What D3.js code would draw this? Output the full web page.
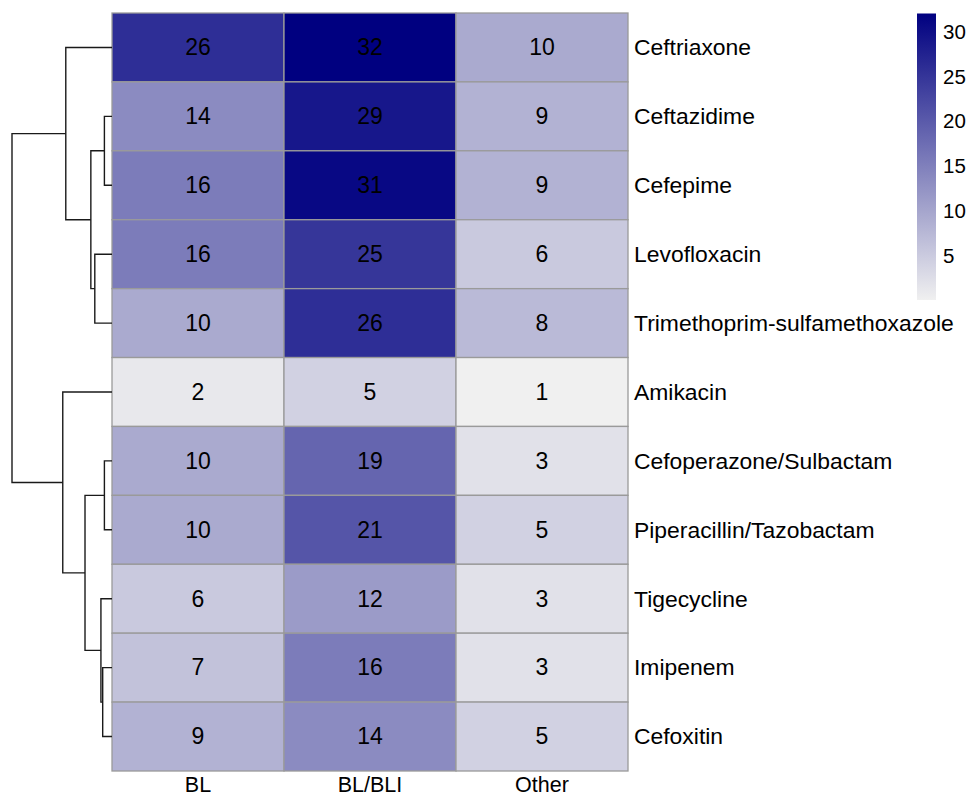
<!DOCTYPE html>
<html>
<head>
<meta charset="utf-8">
<script src="https://cdn.jsdelivr.net/npm/d3@7"></script>
<style>
  body { margin: 0; background: #fff; }
  svg { font-family: "Liberation Sans", Arial, Helvetica, sans-serif; }
</style>
</head>
<body>
<svg id="chart" width="974" height="798"></svg>
<script>
// --- data (rows in displayed order) ---
const drugs = ["Ceftriaxone", "Ceftazidime", "Cefepime", "Levofloxacin", "Trimethoprim-sulfamethoxazole",
  "Amikacin", "Cefoperazone/Sulbactam", "Piperacillin/Tazobactam", "Tigecycline", "Imipenem", "Cefoxitin"];
const groups = ["BL", "BL/BLI", "Other"];
const blValues    = [26, 14, 16, 16, 10, 2, 10, 10, 6, 7, 9];
const blbliValues = [32, 29, 31, 25, 26, 5, 19, 21, 12, 16, 14];
const otherValues = [10, 9, 9, 6, 8, 1, 3, 5, 3, 3, 5];
const legendTicks = [5, 10, 15, 20, 25, 30];

const matrix = drugs.map((d, i) => [blValues[i], blbliValues[i], otherValues[i]]);
const allVals = matrix.flat();

const svg = d3.select("#chart");

// --- scales ---
const x = d3.scaleBand().domain(groups).range([112, 628]);
const y = d3.scaleBand().domain(drugs).range([13, 771]);
const color = d3.scaleLinear().domain(d3.extent(allVals)).range(["#F0F0F0", "#000080"]).interpolate(d3.interpolateRgb);

// --- cells ---
const cells = [];
drugs.forEach((d, i) => groups.forEach((g, j) => cells.push({ drug: d, group: g, v: matrix[i][j] })));

svg.append("g").selectAll("rect").data(cells).join("rect")
  .attr("x", d => x(d.group)).attr("y", d => y(d.drug))
  .attr("width", x.bandwidth()).attr("height", y.bandwidth())
  .attr("fill", d => color(d.v))
  .attr("stroke", "#9a9a9a").attr("stroke-width", 1.3);

svg.append("g").selectAll("text").data(cells).join("text")
  .attr("x", d => x(d.group) + x.bandwidth() / 2)
  .attr("y", d => y(d.drug) + y.bandwidth() / 2)
  .attr("text-anchor", "middle").attr("dy", "0.34em")
  .style("font-size", "23px").style("fill", "#000")
  .text(d => d.v);

// --- row & column labels ---
svg.append("g").selectAll("text").data(drugs).join("text")
  .attr("x", 634).attr("y", d => y(d) + y.bandwidth() / 2).attr("dy", "0.34em")
  .style("font-size", "22.9px").text(d => d);

svg.append("g").selectAll("text").data(groups).join("text")
  .attr("x", d => x(d) + x.bandwidth() / 2).attr("y", 792)
  .attr("text-anchor", "middle").style("font-size", "21.5px").text(d => d);

// --- row dendrogram: complete linkage, euclidean ---
function dist(a, b) { return Math.sqrt(d3.sum(a, (v, k) => (v - b[k]) ** 2)); }
let clusters = drugs.map((d, i) => ({ leaves: [i], h: 0, y: y(d) + y.bandwidth() / 2 }));
const merges = [];
while (clusters.length > 1) {
  let best = null;
  for (let a = 0; a < clusters.length; a++)
    for (let b = a + 1; b < clusters.length; b++) {
      let m = 0;
      clusters[a].leaves.forEach(p => clusters[b].leaves.forEach(q => { m = Math.max(m, dist(matrix[p], matrix[q])); }));
      if (!best || m < best.h - 1e-9) best = { a, b, h: m };
    }
  const A = clusters[best.a], B = clusters[best.b];
  const node = { leaves: A.leaves.concat(B.leaves), h: best.h, y: (A.y + B.y) / 2, left: A, right: B };
  merges.push(node);
  clusters = clusters.filter((c, k) => k !== best.a && k !== best.b).concat([node]);
}

const hx = d3.scaleLinear().domain([0, d3.max(merges, d => d.h)]).range([112, 12]);
svg.append("g").selectAll("path").data(merges).join("path")
  .attr("d", d => `M${hx(d.left.h)},${d.left.y}H${hx(d.h)}V${d.right.y}H${hx(d.right.h)}`)
  .attr("fill", "none").attr("stroke", "#1a1a1a").attr("stroke-width", 1.4);

// --- colour legend ---
const ly = d3.scaleLinear().domain(d3.extent(allVals)).range([291, 13.5]);
const grad = svg.append("defs").append("linearGradient").attr("id", "lg")
  .attr("x1", 0).attr("y1", 1).attr("x2", 0).attr("y2", 0);
d3.range(0, 1.0001, 0.1).forEach(t => {
  grad.append("stop").attr("offset", t).attr("stop-color", color(1 + t * 31));
});
svg.append("rect").attr("x", 917).attr("y", ly(32)).attr("width", 19).attr("height", 300 - ly(32))
  .attr("fill", "url(#lg)");
svg.append("g").selectAll("text").data(legendTicks).join("text")
  .attr("x", 943).attr("y", d => ly(d)).attr("dy", "0.36em")
  .style("font-size", "20.5px").text(d => d);
</script>
</body>
</html>
